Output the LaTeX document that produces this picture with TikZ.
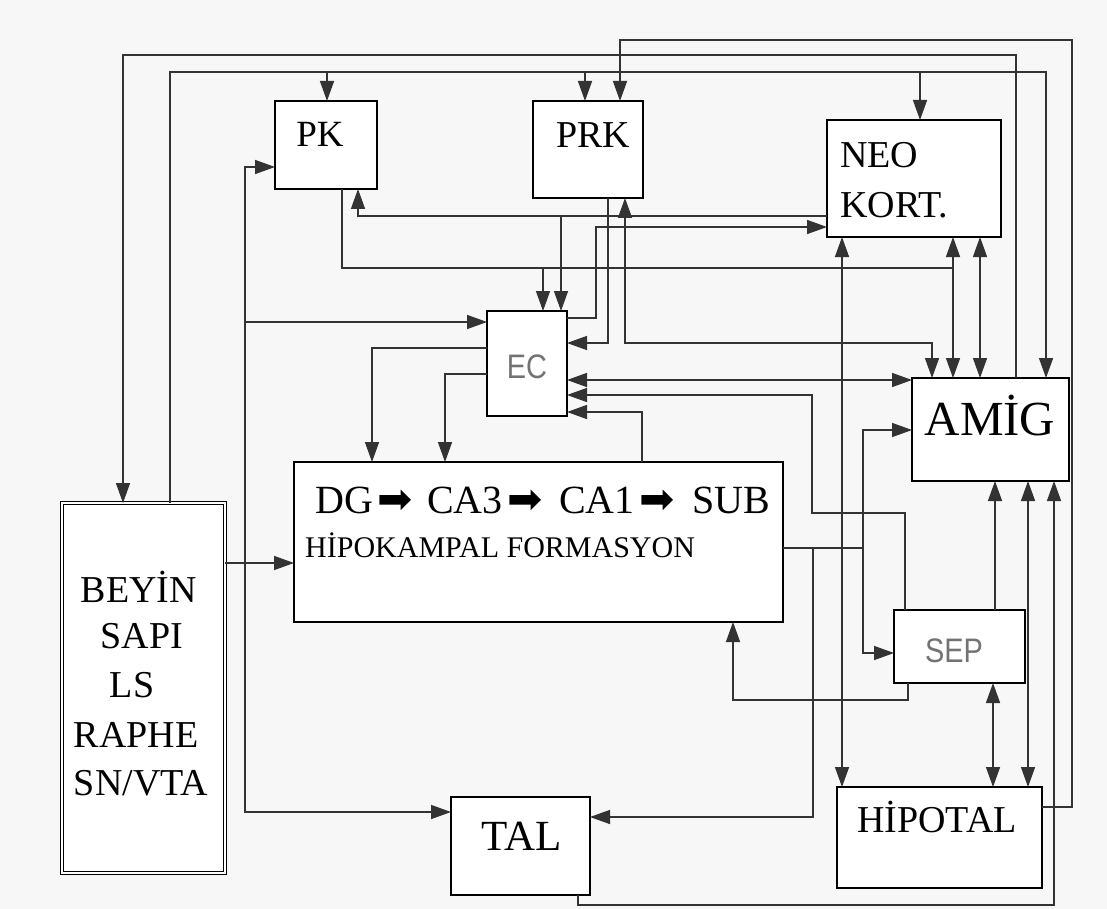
\documentclass[tikz,border=0pt]{standalone}
\usepackage{fontspec}
\setmainfont{Liberation Serif}
\newfontfamily\gsans[FakeStretch=0.85]{Liberation Sans}
\newfontfamily\dingfont{DejaVu Sans}
\usetikzlibrary{arrows.meta}

\tikzset{
  box/.style={draw=black, line width=1.4pt, fill=white, inner sep=0pt, outer sep=0pt, anchor=north west},
  wire/.style={draw=black!80, line width=1.5pt},
  arr/.style={wire, -{Triangle[length=20pt,width=14pt]}},
  biarr/.style={wire, {Triangle[length=20pt,width=14pt]}-{Triangle[length=20pt,width=14pt]}},
  lbl/.style={font=\fontsize{#1pt}{#1pt}\selectfont, inner sep=0pt, anchor=base},
  glbl/.style={font=\gsans\fontsize{34pt}{34pt}\selectfont, text=black!55, inner sep=0pt, anchor=base},
}

\begin{document}
\begin{tikzpicture}[x=1pt, y=-1pt]
  \fill[black!3] (0,0) rectangle (1107,909);
  \useasboundingbox (0,0) rectangle (1107,909);

  % boxes
  \node[box, minimum width=102pt, minimum height=88pt] (PK) at (275,101) {};
  \node[box, minimum width=110pt, minimum height=97pt] (PRK) at (533,101) {};
  \node[box, minimum width=174pt, minimum height=117pt, line width=2pt] (NEO) at (827,120) {};
  \node[box, minimum width=80pt, minimum height=105pt] (EC) at (487,311) {};
  \node[box, minimum width=489pt, minimum height=160pt] (HF) at (294,462) {};
  \node[box, minimum width=157pt, minimum height=103pt] (AMIG) at (912,378) {};
  \node[box, minimum width=131pt, minimum height=73pt] (SEP) at (894,610) {};
  \node[box, minimum width=205pt, minimum height=101pt] (HIPOTAL) at (837,787) {};
  \node[box, minimum width=139pt, minimum height=98pt] (TAL) at (451,797) {};
  \node[box, minimum width=163pt, minimum height=370pt, double, double distance=2.5pt, line width=1.2pt] (BEYIN) at (62,503) {};

  % labels
  \node[lbl=37] (tPK) at (320,147) {PK};
  \node[lbl=38] (tPRK) at (593,148) {PRK};
  \node[lbl=38, anchor=base west] (tNEO) at (840,168) {NEO};
  \node[lbl=38, anchor=base west] (tKORT) at (840,218) {KORT.};
  \node[glbl] (tEC) at (527,378) {EC};
  \node[glbl] (tSEP) at (954,662) {SEP};
  \node[lbl=49] (tAMIG) at (990,435) {AMİG};
  \node[lbl=38] (tHIPOTAL) at (937,832) {HİPOTAL};
  \node[lbl=43] (tTAL) at (522,850) {TAL};
  \foreach \t/\x/\y [count=\i] in {BEYİN/139/602, SAPI/142/648, LS/132/697, RAPHE/136/747, SN\slash VTA/141/795}
    \node[lbl=38] (tBS\i) at (\x,\y) {\t};
  \foreach \t/\x [count=\i] in {DG/315, CA3/427, CA1/559, SUB/692}
    \node[lbl=40, anchor=base west] (tHF\i) at (\x,513) {\t};
  \foreach \x [count=\i] in {377,507,639}
    \node[inner sep=0pt, anchor=base west, font=\dingfont\fontsize{42pt}{42pt}\selectfont] (tAR\i) at (\x,513) {➡};
  \node[lbl=30, anchor=base west] (tFORM) at (305,557) {HİPOKAMPAL FORMASYON};

  % long loops round the top
  \draw[arr] (AMIG.north -| 1016,0) |- (123,55) -- (BEYIN.north -| 123,0);
  \draw[arr] (BEYIN.north -| 170,0) |- (1046,72) -- (AMIG.north -| 1046,0);
  \foreach \n/\x in {PK/327, PRK/585, NEO/920}
    \draw[arr] (\x,72) -- (\n.north -| \x,0);
  \draw[arr] (HIPOTAL.east |- 0,807) -| (1072,40) -| (PRK.north -| 620,0);
  \draw[arr] (TAL.south -| 578,0) |- (1054,905) -- (AMIG.south -| 1054,0);

  % brain stem side
  \draw[arr] (BEYIN.east |- 0,563) -- (HF.west |- 0,563);
  \draw[biarr] (PK.west |- 0,167) -| (245,500) |- (TAL.west |- 0,812);
  \draw[arr] (245,322) -- (EC.west |- 0,322);

  % cortex and EC
  \draw[wire] (PK.south -| 342,0) |- (953,268);
  \draw[arr] (543,268) -- (EC.north -| 543,0);
  \draw[arr] (NEO.west |- 0,216) -| (PK.south -| 358,0);
  \draw[arr] (561,216) -- (EC.north -| 561,0);
  \draw[arr] (EC.east |- 0,318) -| (596,227) -- (NEO.west |- 0,227);
  \draw[arr] (PRK.south -| 608,0) |- (EC.east |- 0,343);
  \draw[biarr] (PRK.south -| 625,0) |- (932,343) -- (AMIG.north -| 932,0);
  \draw[biarr] (EC.east |- 0,380) -- (AMIG.west |- 0,380);
  \draw[arr] (SEP.north -| 905,0) |- (812,513) |- (EC.east |- 0,395);
  \draw[arr] (HF.north -| 642,0) |- (EC.east |- 0,412);
  \draw[arr] (EC.west |- 0,348) -| (HF.north -| 372,0);
  \draw[arr] (EC.west |- 0,374) -| (HF.north -| 445,0);

  % hippocampus outputs
  \draw[arr] (HF.east |- 0,548) -| (863,430) -- (AMIG.west |- 0,430);
  \draw[arr] (863,548) |- (SEP.west |- 0,653);
  \draw[arr] (813,548) |- (TAL.east |- 0,817);
  \draw[arr] (SEP.south -| 908,0) |- (733,700) -- (HF.south -| 733,0);

  % vertical links on the right
  \draw[biarr] (NEO.south -| 842,0) -- (HIPOTAL.north -| 842,0);
  \foreach \x in {953,980}
    \draw[biarr] (NEO.south -| \x,0) -- (AMIG.north -| \x,0);
  \draw[arr] (SEP.north -| 995,0) -- (AMIG.south -| 995,0);
  \draw[biarr] (AMIG.south -| 1028,0) -- (HIPOTAL.north -| 1028,0);
  \draw[biarr] (SEP.south -| 993,0) -- (HIPOTAL.north -| 993,0);
\end{tikzpicture}
\end{document}
